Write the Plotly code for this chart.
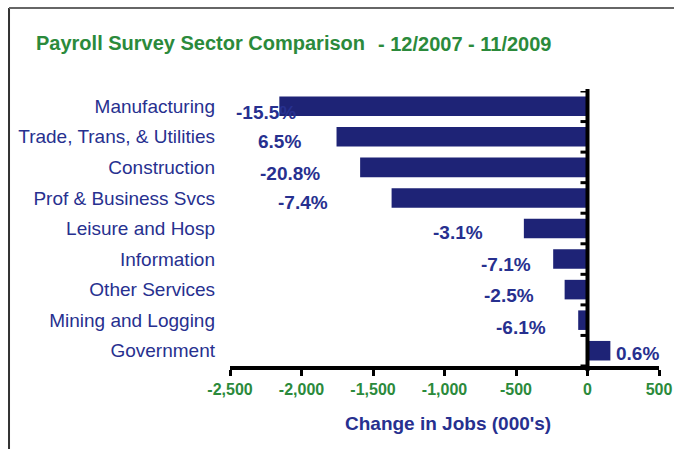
import plotly.graph_objects as go

# Payroll survey: change in jobs by sector, 12/2007 - 11/2009 (thousands)
sectors = [
    "Manufacturing",
    "Trade, Trans, & Utilities",
    "Construction",
    "Prof & Business Svcs",
    "Leisure and Hosp",
    "Information",
    "Other Services",
    "Mining and Logging",
    "Government",
]
job_change = [-2155, -1755, -1590, -1370, -445, -240, -160, -65, 160]
pct_change = ["-15.5%", "6.5%", "-20.8%", "-7.4%", "-3.1%", "-7.1%", "-2.5%", "-6.1%", "0.6%"]
x_ticks = [-2500, -2000, -1500, -1000, -500, 0, 500]
x_tick_text = ["-2,500", "-2,000", "-1,500", "-1,000", "-500", "0", "500"]

# Pixel nudges for the percentage labels (relative to each bar's end)
label_dx = [19, -34, -38, -62, -39, -20, -29, -30, 4]
label_dy = [-6, -5, -6, -5, -4, -5, -6, -7, -3]

W, H = 674, 449
ML, MR, MT, MB = 229.5, 14.5, 91, 83
PW, PH = W - ML - MR, H - MT - MB

def px_x(px):
    return (px - ML) / PW

def px_y(py):
    return (H - MB - py) / PH

NAVY = "#1e2376"
TEXT_BLUE = "#27308f"
GREEN = "#2b8a3b"
FONT = "Liberation Sans, Arial, sans-serif"

fig = go.Figure()
fig.add_trace(go.Bar(
    x=job_change,
    y=sectors,
    orientation="h",
    marker=dict(color=NAVY, line=dict(width=0)),
    hoverinfo="skip",
))

annotations = []
for s, v, t, dx, dy in zip(sectors, job_change, pct_change, label_dx, label_dy):
    annotations.append(dict(
        x=v, y=s, xref="x", yref="y", text=t, showarrow=False,
        xanchor="right" if v < 0 else "left", yanchor="middle",
        xshift=dx, yshift=dy,
        font=dict(family=FONT, size=19, color=TEXT_BLUE, weight="bold"),
    ))

# Title in two parts
annotations.append(dict(
    x=px_x(33), y=px_y(43), xref="paper", yref="paper",
    text="Payroll Survey Sector Comparison", showarrow=False,
    xanchor="left", yanchor="middle",
    font=dict(family=FONT, size=20, color=GREEN, weight="bold"),
))
annotations.append(dict(
    x=px_x(376), y=px_y(44), xref="paper", yref="paper",
    text="- 12/2007 - 11/2009", showarrow=False,
    xanchor="left", yanchor="middle",
    font=dict(family=FONT, size=20, color=GREEN, weight="bold"),
))

# x-axis title
annotations.append(dict(
    x=px_x(448), y=px_y(423), xref="paper", yref="paper",
    text="Change in Jobs (000's)", showarrow=False,
    xanchor="center", yanchor="middle",
    font=dict(family=FONT, size=19, color=TEXT_BLUE, weight="bold"),
))

shapes = [
    # outer frame (left and top edges)
    dict(type="line", xref="paper", yref="paper",
         x0=px_x(8), x1=px_x(8), y0=px_y(8), y1=px_y(460),
         line=dict(color="#333333", width=2)),
    dict(type="line", xref="paper", yref="paper",
         x0=px_x(8), x1=px_x(680), y0=px_y(8), y1=px_y(8),
         line=dict(color="#666666", width=2)),
    # vertical zero axis
    dict(type="line", xref="x", yref="paper",
         x0=0, x1=0, y0=px_y(371), y1=px_y(89),
         line=dict(color="black", width=4), layer="above"),
]
# category boundary ticks on the zero axis
for k in range(len(sectors) + 1):
    shapes.append(dict(
        type="line", xref="x", yref="y", xsizemode="pixel", xanchor=0,
        x0=-7, x1=0, y0=k - 0.5, y1=k - 0.5,
        line=dict(color="black", width=3), layer="above",
    ))

fig.update_layout(
    width=W, height=H,
    margin=dict(l=ML, r=MR, t=MT, b=MB, pad=0, autoexpand=False),
    paper_bgcolor="white", plot_bgcolor="white",
    showlegend=False,
    bargap=0.36,
    xaxis=dict(
        range=[-2500, 500], tickvals=x_ticks, ticktext=x_tick_text,
        automargin=False,
        showline=True, linecolor="black", linewidth=4,
        ticks="outside", ticklen=6, tickwidth=3, tickcolor="black",
        showgrid=False, zeroline=False,
        tickfont=dict(family=FONT, size=16, color=GREEN, weight="bold"),
    ),
    yaxis=dict(
        categoryorder="array", categoryarray=sectors,
        range=[len(sectors) - 0.5, -0.5],
        automargin=False,
        showline=False, showgrid=False, zeroline=False, ticks="",
        ticklabelstandoff=14,
        tickfont=dict(family=FONT, size=19, color=TEXT_BLUE),
    ),
    annotations=annotations,
    shapes=shapes,
)

fig.write_html("out.html")
